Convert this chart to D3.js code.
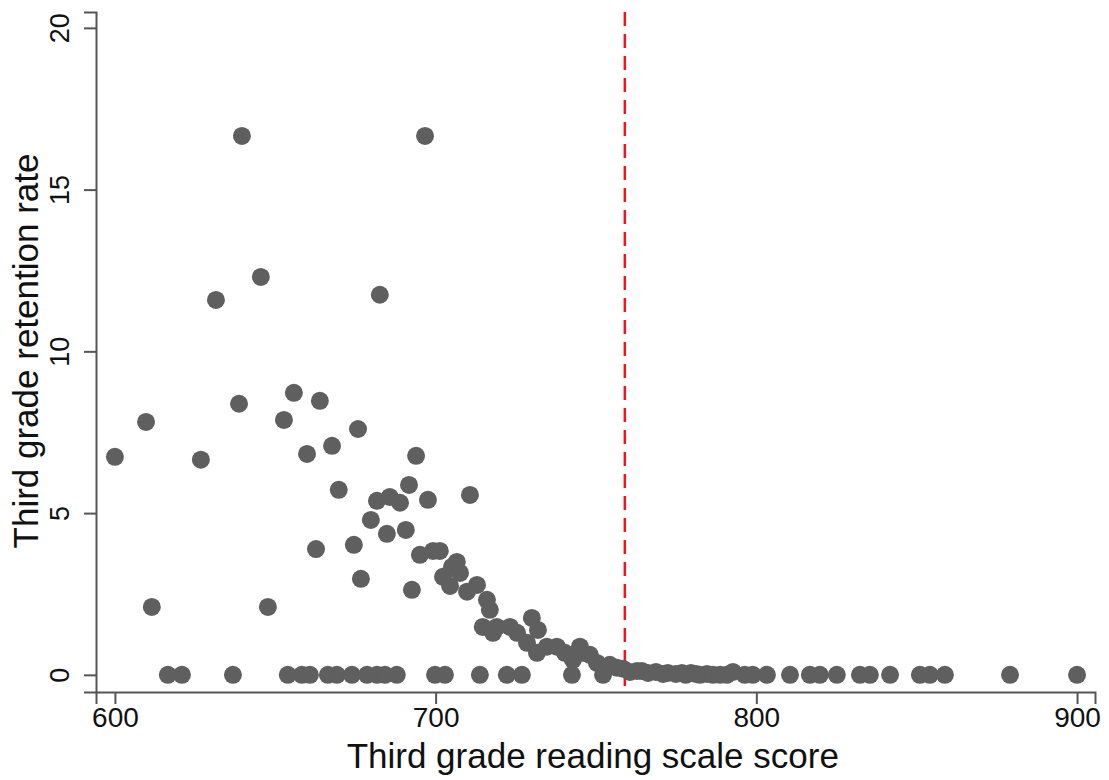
<!DOCTYPE html>
<html>
<head>
<meta charset="utf-8">
<script src="https://cdn.jsdelivr.net/npm/d3@7"></script>
<style>
  body { margin: 0; background: #fff; }
  text { font-family: "Liberation Sans", Arial, sans-serif; fill: #111; }
</style>
</head>
<body>
<div id="chart"></div>
<script>
// Third grade reading scale score (x) and retention rate (y)
var scores = [600.0, 609.7, 611.5, 626.8, 631.5, 638.7, 639.6, 645.5, 647.7, 652.7,
  655.8, 659.9, 662.7, 663.9, 667.7, 669.8, 674.5, 675.8, 676.7, 679.8,
  681.7, 682.6, 684.8, 685.7, 688.9, 690.7, 691.7, 692.6, 693.9, 695.1,
  696.7, 697.6, 699.2, 701.3, 702.3, 704.5, 705.1, 706.6, 707.6, 709.8,
  710.7, 712.9, 716.0, 716.9, 714.7, 717.9, 719.1, 723.2, 725.4, 730.0,
  731.9, 728.5, 731.6, 734.7, 737.8, 740.3, 742.8, 745.0, 745.9, 748.1,
  750.3, 752.2, 754.3, 756.5, 758.4, 760.6, 762.8, 764.3, 766.2, 768.7,
  770.9, 772.4, 774.9, 776.8, 778.0, 779.6, 781.2, 782.4, 784.6, 786.5,
  788.7, 790.8, 792.7, 796.4, 798.9, 803.3, 810.5, 816.7, 819.8, 825.1,
  832.3, 835.4, 841.7, 851.0, 854.1, 858.8, 879.1, 900.0,
  616.5, 620.9, 636.8, 653.9, 658.3, 660.8, 666.4, 669.2, 673.9, 678.6,
  681.7, 684.2, 687.9, 699.8, 702.9, 713.8, 722.2, 726.9, 742.5, 752.2];

var rates = [6.74, 7.82, 2.10, 6.65, 11.59, 8.38, 16.66, 12.30, 2.10, 7.88,
  8.72, 6.83, 3.89, 8.47, 7.08, 5.72, 4.02, 7.60, 2.97, 4.79,
  5.38, 11.75, 4.36, 5.50, 5.32, 4.48, 5.87, 2.63, 6.77, 3.71,
  16.66, 5.41, 3.83, 3.83, 3.03, 2.75, 3.34, 3.49, 3.15, 2.57,
  5.56, 2.78, 2.32, 2.01, 1.48, 1.30, 1.48, 1.48, 1.30, 1.76,
  1.39, 0.99, 0.68, 0.87, 0.87, 0.68, 0.46, 0.87, 0.68, 0.62,
  0.37, 0.25, 0.31, 0.22, 0.19, 0.09, 0.12, 0.12, 0.06, 0.09,
  0.03, 0.06, 0.03, 0.06, 0, 0.06, 0.03, 0, 0.03, 0,
  0, 0, 0.09, 0, 0, 0, 0, 0, 0, 0,
  0, 0, 0, 0, 0, 0, 0, 0,
  0, 0, 0, 0, 0, 0, 0, 0, 0, 0,
  0, 0, 0, 0, 0, 0, 0, 0, 0, 0];

var xTicks = [600, 700, 800, 900];
var yTicks = [0, 5, 10, 15, 20];
var cutoff = 759;

var margin = {top: 12, right: 14, bottom: 88, left: 96},
    width = 1109 - margin.left - margin.right,
    height = 780 - margin.top - margin.bottom;

var svg = d3.select("#chart")
  .append("svg")
  .attr("width", 1109)
  .attr("height", 780)
  .append("g")
  .attr("transform", "translate(" + margin.left + "," + margin.top + ")");

var x = d3.scaleLinear().domain([594.1, 905.6]).range([0, width]);
var y = d3.scaleLinear().domain([-0.53, 20.49]).range([height, 0]);

// axes
var xAxis = svg.append("g")
  .attr("transform", "translate(0," + height + ")")
  .call(d3.axisBottom(x).tickValues(xTicks).tickSize(12).tickPadding(3));
var yAxis = svg.append("g")
  .call(d3.axisLeft(y).tickValues(yTicks).tickSize(12).tickPadding(8));

[xAxis, yAxis].forEach(function(a) {
  a.select(".domain").attr("stroke", "#555").attr("stroke-width", 2);
  a.selectAll(".tick line").attr("stroke", "#555").attr("stroke-width", 2);
  a.selectAll("text").style("font-size", "28px").attr("fill", "#111");
});

yAxis.selectAll(".tick text")
  .style("font-size", "27px")
  .attr("transform", "rotate(-90)")
  .attr("x", 0)
  .attr("y", -27)
  .attr("dy", 0)
  .style("text-anchor", "middle");

// cutoff line
svg.append("line")
  .attr("x1", x(cutoff)).attr("x2", x(cutoff))
  .attr("y1", 0).attr("y2", height)
  .attr("stroke", "#f0141e")
  .attr("stroke-width", 2.5)
  .attr("stroke-dasharray", "14,8");

// points
svg.append("g")
  .selectAll("circle")
  .data(scores)
  .enter()
  .append("circle")
  .attr("cx", function(d) { return x(d); })
  .attr("cy", function(d, i) { return y(rates[i]); })
  .attr("r", 9)
  .attr("fill", "#5f5f5f");

// axis titles
svg.append("text")
  .attr("x", x(749))
  .attr("y", height + 76)
  .style("text-anchor", "middle")
  .style("font-size", "35px")
  .text("Third grade reading scale score");

svg.append("text")
  .attr("transform", "rotate(-90)")
  .attr("x", -339)
  .attr("y", -58)
  .style("text-anchor", "middle")
  .style("font-size", "35px")
  .text("Third grade retention rate");
</script>
</body>
</html>
